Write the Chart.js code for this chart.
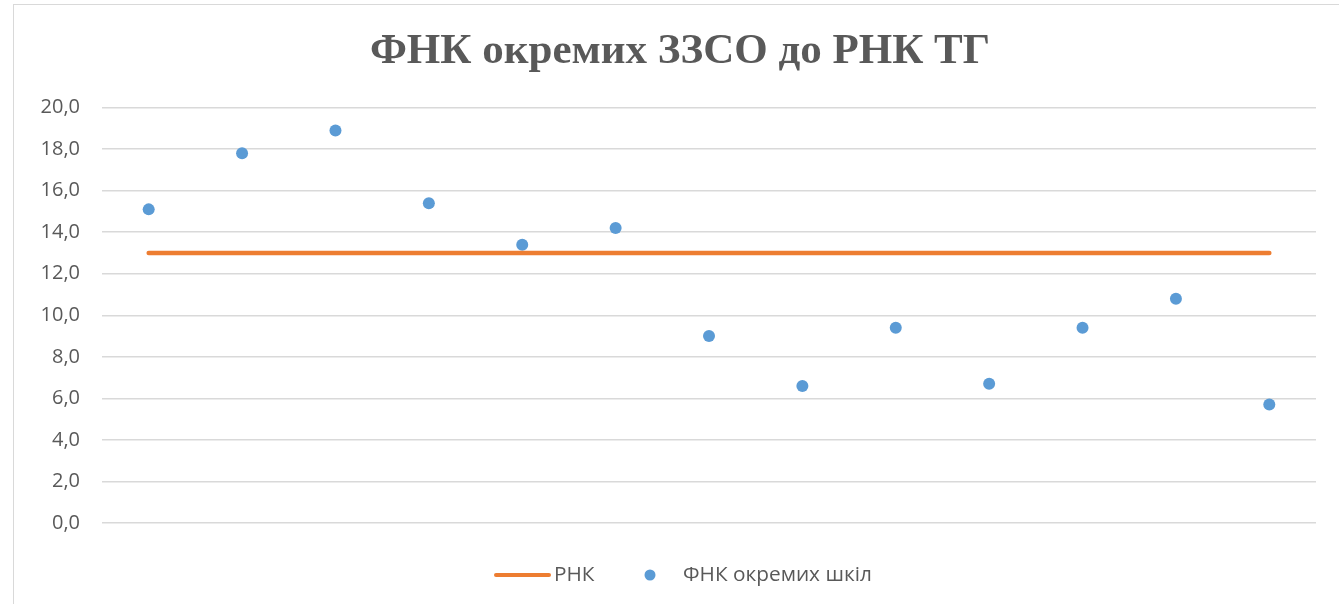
<!DOCTYPE html>
<html>
<head>
<meta charset="utf-8">
<script src="https://cdn.jsdelivr.net/npm/chart.js@4"></script>
<style>
  html, body { margin: 0; padding: 0; background: #fff; }
  #wrap { position: relative; width: 1339px; height: 604px; }
  #frame { position: absolute; left: 13px; top: 4px; right: -2px; bottom: -2px;
           border-left: 1px solid #d9d9d9; border-top: 1px solid #d9d9d9; }
  canvas { position: absolute; left: 0; top: 0; }
</style>
</head>
<body>
<div id="wrap">
  <div id="frame"></div>
  <canvas id="chart" width="1339" height="604"></canvas>
</div>
<script>
// Дані діаграми
const schools = ['1', '2', '3', '4', '5', '6', '7', '8', '9', '10', '11', '12', '13'];
const rnk = [13.0, 13.0, 13.0, 13.0, 13.0, 13.0, 13.0, 13.0, 13.0, 13.0, 13.0, 13.0, 13.0];
const fnk = [15.1, 17.8, 18.9, 15.4, 13.4, 14.2, 9.0, 6.6, 9.4, 6.7, 9.4, 10.8, 5.7];
const yTicks = [0, 2, 4, 6, 8, 10, 12, 14, 16, 18, 20];

const orange = '#ED7D31';
const blue = '#5B9BD5';
const textGrey = '#595959';

// Легенда внизу, малюється вручну (лінія + кружок)
const bottomLegend = {
    id: 'bottomLegend',
    afterLayout(chart) {
        // заголовок трохи правіше центру полотна, як в оригіналі
        chart.titleBlock.left += 44;
    },
    afterDraw(chart) {
        const ctx = chart.ctx;
        const y = 575;
        ctx.save();
        ctx.font = '20.8px "Open Sans"';
        ctx.fillStyle = textGrey;
        ctx.textBaseline = 'middle';
        // РНК
        ctx.strokeStyle = orange;
        ctx.lineWidth = 4;
        ctx.lineCap = 'round';
        ctx.beginPath();
        ctx.moveTo(496, y);
        ctx.lineTo(549, y);
        ctx.stroke();
        ctx.fillText(chart.data.datasets[0].label, 554, y);
        // ФНК окремих шкіл
        ctx.fillStyle = blue;
        ctx.beginPath();
        ctx.arc(650, y, 5.5, 0, Math.PI * 2);
        ctx.fill();
        ctx.fillStyle = textGrey;
        ctx.fillText(chart.data.datasets[1].label, 683, y);
        ctx.restore();
    }
};

const ctx = document.getElementById('chart').getContext('2d');
new Chart(ctx, {
    type: 'line',
    data: {
        labels: schools,
        datasets: [{
            label: 'РНК',
            data: rnk,
            borderColor: orange,
            borderWidth: 4.5,
            borderCapStyle: 'round',
            pointRadius: 0,
            fill: false
        }, {
            label: 'ФНК окремих шкіл',
            data: fnk,
            showLine: false,
            pointRadius: 6,
            pointBackgroundColor: blue,
            pointBorderColor: blue,
            pointBorderWidth: 0
        }]
    },
    options: {
        responsive: false,
        animation: false,
        layout: { padding: { left: 0, right: 23, top: 0, bottom: 73 } },
        plugins: {
            legend: { display: false },
            tooltip: { enabled: false },
            title: {
                display: true,
                text: 'ФНК окремих ЗЗСО до РНК ТГ',
                color: textGrey,
                font: { family: '"Liberation Serif", "DejaVu Serif", serif', size: 43, weight: 'bold' },
                padding: { top: 26, bottom: 30 }
            }
        },
        scales: {
            x: {
                offset: true,
                ticks: { display: false },
                grid: { display: false },
                border: { display: false }
            },
            y: {
                min: 0,
                max: 20,
                afterBuildTicks(scale) {
                    scale.ticks = yTicks.map(v => ({ value: v }));
                },
                afterFit(scale) {
                    scale.width = 102;
                },
                ticks: {
                    color: textGrey,
                    font: { family: '"Open Sans"', size: 20 },
                    padding: 22,
                    callback: v => v.toFixed(1).replace('.', ',')
                },
                grid: { color: '#d9d9d9', lineWidth: 1.5, drawTicks: false },
                border: { display: false }
            }
        }
    },
    plugins: [bottomLegend]
});
</script>
</body>
</html>
